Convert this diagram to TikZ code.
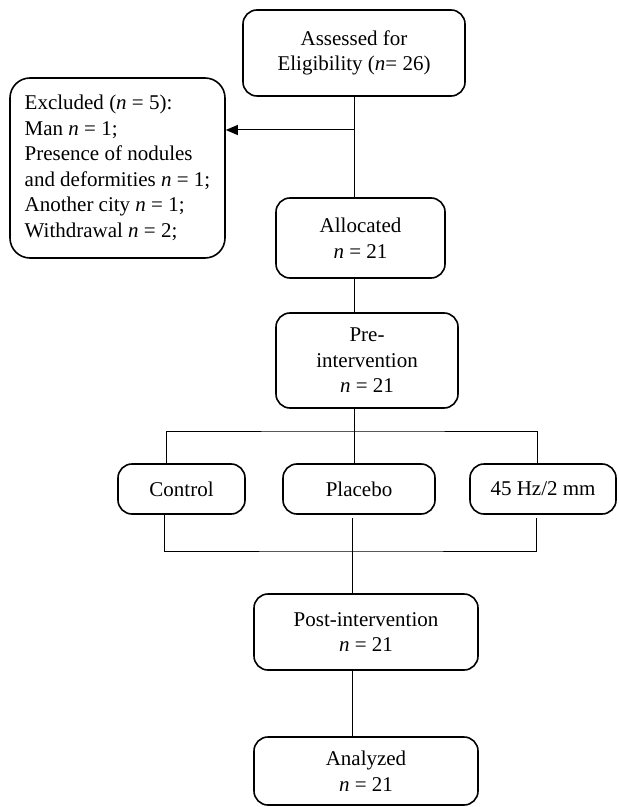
\documentclass[tikz,border=0pt]{standalone}
\usepackage{fontspec}
\setmainfont{Liberation Serif}
\usetikzlibrary{arrows.meta}

\begin{document}
\begin{tikzpicture}[x=0.5pt,y=-0.5pt,
  box/.style={draw, line width=0.8pt, rounded corners=7pt, align=center,
    inner sep=2pt, font=\fontsize{10.5}{12.75}\selectfont},
  link/.style={line width=0.5pt}]
  \useasboundingbox (0,0) rectangle (618,807);
  \node[box, minimum width=111pt, minimum height=43pt] (assess) at (354,53)
    {Assessed for\\Eligibility (\textit{n}= 26)};
  \node[box, rounded corners=10pt, align=left, minimum width=107.5pt, minimum height=90pt] (excl) at (117.5,168)
    {Excluded (\textit{n} = 5):\\Man \textit{n} = 1;\\Presence of nodules\\and deformities \textit{n} = 1;\\Another city \textit{n} = 1;\\Withdrawal \textit{n} = 2;};
  \node[box, minimum width=84.5pt, minimum height=40pt] (alloc) at (360.5,238)
    {Allocated\\\textit{n} = 21};
  \node[box, minimum width=91pt, minimum height=47.5pt] (pre) at (367,360.5)
    {Pre-\\intervention\\\textit{n} = 21};
  \node[box, minimum width=63.5pt, minimum height=25pt] (ctrl) at (181.5,489) {Control};
  \node[box, minimum width=76pt, minimum height=25pt] (plac) at (359,489) {Placebo};
  \node[box, minimum width=73pt, minimum height=25pt] (hz) at (543,489) {45 Hz/2 mm};
  \node[box, minimum width=112pt, minimum height=38pt] (post) at (366,632)
    {Post-intervention\\\textit{n} = 21};
  \node[box, minimum width=112pt, minimum height=34pt] (anal) at (366,771)
    {Analyzed\\\textit{n} = 21};
  \coordinate (exclpt) at (354,130);
  \coordinate (split) at (354,431);
  \coordinate (join) at (352,551);
  % top part
  \draw[link] (assess.south -| exclpt) -- (exclpt |- alloc.north);
  \draw[link, -{Triangle[length=6pt,width=5pt]}] (exclpt) -- (exclpt -| excl.east);
  \draw[link] (alloc.south -| exclpt) -- (exclpt |- pre.north);
  % split into groups
  \draw[link] (pre.south -| split) -- (split |- plac.north);
  \draw[link] (166,464) |- (split) -| (537,464);
  % join the groups
  \draw[link] (164,514) |- (join) -| (536,518);
  \draw[link] (352,518) -- (join |- post.north);
  \draw[link] (post.south -| join) -- (join |- anal.north);
\end{tikzpicture}
\end{document}
